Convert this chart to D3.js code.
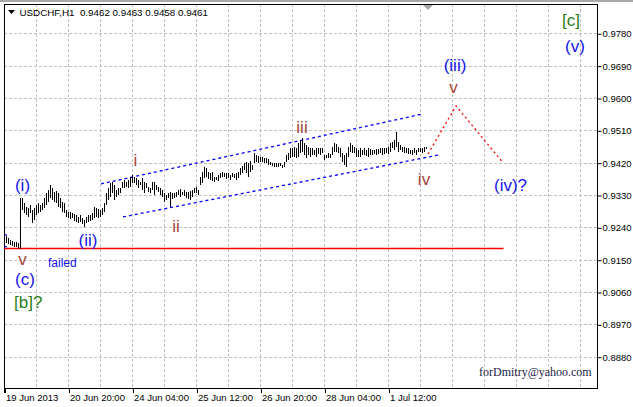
<!DOCTYPE html>
<html><head><meta charset="utf-8">
<script src="https://cdn.jsdelivr.net/npm/d3@7"></script>
<style>body{margin:0;background:#fff;} svg{display:block;}</style>
</head><body><svg id="c" width="633" height="407"></svg>
<script>
const symbol = "USDCHF,H1";
const lastQuote = ["0.9462", "0.9463", "0.9458", "0.9461"];

const highs = [
.9222,.9216,.9210,.9205,.9202,.9199,.9199,.9196,.9322,.9322,
.9308,.9297,.9294,.9302,.9288,.9294,.9302,.9308,.9302,.9308,
.9322,.9336,.9344,.9358,.9350,.9339,.9341,.9336,.9322,.9311,
.9308,.9288,.9283,.9283,.9280,
.9277,.9274,.9269,.9274,.9266,.9260,.9269,.9274,.9274,.9280,
.9297,.9294,.9291,.9288,.9294,.9308,.9336,.9350,.9364,.9366,
.9358,.9344,.9350,.9350,.9366,.9372,.9366,.9372,.9380,.9386,
.9380,.9378,.9372,.9366,.9378,
.9366,.9364,.9352,.9350,.9366,.9366,.9358,.9352,.9350,.9344,
.9336,.9330,.9336,.9339,.9336,.9336,.9339,.9344,.9347,.9339,
.9344,.9339,.9339,.9341,.9344,.9350,.9352,.9344,.9380,.9394,
.9408,.9405,.9394,.9391,.9394,
.9380,.9380,.9386,.9391,.9394,.9391,.9391,.9391,.9386,.9391,
.9389,.9391,.9394,.9405,.9411,.9419,.9422,.9419,.9425,.9414,
.9447,.9441,.9439,.9436,.9436,.9433,.9433,.9430,.9422,.9419,
.9419,.9419,.9419,.9419,.9414,
.9422,.9441,.9447,.9461,.9461,.9464,.9461,.9475,.9483,.9489,
.9475,.9469,.9464,.9461,.9461,.9455,.9461,.9461,.9461,.9461,
.9441,.9441,.9447,.9444,.9464,.9475,.9472,.9464,.9461,.9447,
.9441,.9447,.9464,.9475,.9469,
.9464,.9461,.9455,.9461,.9455,.9461,.9455,.9461,.9458,.9455,
.9455,.9458,.9458,.9461,.9461,.9461,.9461,.9464,.9475,.9478,
.9483,.9505,.9478,.9469,.9464,.9464,.9461,.9461,.9455,.9455,
.9461,.9455,.9461,.9461,.9461,.9464,.9463
];
const lows = [
.9205,.9196,.9194,.9191,.9188,.9185,.9185,.9183,.9180,.9288,
.9280,.9274,.9269,.9280,.9252,.9260,.9274,.9280,.9283,.9288,
.9294,.9302,.9311,.9322,.9316,.9311,.9308,.9297,.9294,.9283,
.9280,.9269,.9266,.9263,.9266,
.9258,.9255,.9252,.9255,.9249,.9241,.9252,.9255,.9258,.9260,
.9266,.9269,.9266,.9269,.9274,.9283,.9302,.9316,.9325,.9336,
.9316,.9325,.9330,.9336,.9350,.9350,.9352,.9350,.9352,.9364,
.9364,.9358,.9350,.9358,.9344,
.9336,.9350,.9339,.9336,.9344,.9330,.9344,.9339,.9330,.9325,
.9311,.9316,.9322,.9297,.9319,.9322,.9325,.9330,.9325,.9330,
.9327,.9322,.9319,.9316,.9325,.9336,.9336,.9330,.9358,.9364,
.9378,.9380,.9375,.9372,.9369,
.9366,.9372,.9369,.9378,.9380,.9380,.9375,.9378,.9372,.9380,
.9378,.9372,.9378,.9386,.9391,.9400,.9391,.9380,.9394,.9400,
.9419,.9422,.9419,.9422,.9422,.9419,.9419,.9414,.9414,.9411,
.9408,.9408,.9408,.9411,.9405,
.9408,.9422,.9428,.9433,.9436,.9436,.9433,.9436,.9447,.9450,
.9441,.9433,.9441,.9436,.9441,.9441,.9436,.9444,.9441,.9447,
.9428,.9433,.9433,.9433,.9441,.9450,.9450,.9447,.9436,.9422,
.9414,.9408,.9436,.9450,.9447,
.9447,.9436,.9436,.9436,.9441,.9441,.9439,.9436,.9441,.9441,
.9444,.9441,.9444,.9447,.9441,.9444,.9447,.9444,.9450,.9461,
.9455,.9464,.9450,.9455,.9450,.9447,.9447,.9444,.9444,.9441,
.9447,.9441,.9450,.9450,.9447,.9450,.9458
];

const timeLabels = ["19 Jun 2013", "20 Jun 20:00", "24 Jun 04:00", "25 Jun 12:00", "26 Jun 20:00", "28 Jun 04:00", "1 Jul 12:00"];
const timeLabelBars = [0, 32, 64, 96, 128, 160, 192];
const priceTicks = [0.9780, 0.9690, 0.9600, 0.9510, 0.9420, 0.9330, 0.9240, 0.9150, 0.9060, 0.8970, 0.8880];

const channelUpper = [[48.25, 0.9361], [208.75, 0.9555]];
const channelLower = [[59.25, 0.9269], [216.75, 0.9441]];
const startMarks = [[[0, 0.9219], [1.2, 0.9219]], [[0, 0.9186], [1.2, 0.9186]]];
const projection = [[211.75, 0.9444], [225.75, 0.9578], [249.25, 0.9420]];
const failedLevel = [[-0.25, 0.9182], [249.5, 0.9182]];

const BLUE = "#1414ee", BROWN = "#a2453a", GREEN = "#2a7d18";
const waveText = ["(i)", "(ii)", "v", "(c)", "[b]?", "failed", "i", "ii", "iii", "iv", "v", "(iii)", "(iv)?", "[c]", "(v)"];
const waveBar = [9, 41.75, 9, 10.25, 4.75, 21.75, 65.5, 85.75, 148.75, 209.75, 224.5, 225.25, 244.75, 283.25, 285.25];
const wavePrice = [0.9340, 0.9187, 0.9135, 0.9080, 0.9016, 0.9131, 0.9411, 0.9227, 0.9503, 0.9358, 0.9614, 0.9674, 0.9341, 0.9799, 0.9729];
const waveColor = [BLUE, BLUE, BROWN, BLUE, GREEN, BLUE, BROWN, BROWN, BROWN, BROWN, BROWN, BLUE, BLUE, GREEN, BLUE];
const waveSize = [17, 17, 17, 17, 17, 12, 17, 17, 17, 17, 17, 17, 17, 17, 17];
const waveAnchor = ["middle", "middle", "middle", "middle", "start", "start", "middle", "middle", "middle", "middle", "middle", "middle", "start", "middle", "middle"];
const signature = {text: "forDmitry@yahoo.com", bar: 237.25, price: 0.8826};

const W = 633, H = 407;
const plot = {left: 4, right: 597, top: 4, bottom: 388};
const x = d3.scaleLinear().domain([-0.25, 296.25]).range([plot.left, plot.right]);
const y = d3.scaleLinear().domain([0.8880, 0.9780]).range([356.7, 33.3]);
const px = v => Math.floor(x(v)) + 0.5;
const py = v => Math.round(y(v)) + 0.5;
const FONT = "'Liberation Sans', Arial, sans-serif";

const svg = d3.select("#c");
svg.append("rect").attr("width", W).attr("height", H).attr("fill", "#fff");
svg.append("rect").attr("x", 0).attr("y", 0).attr("width", W).attr("height", 2).attr("fill", "#a8a8a8");

// grid
const grid = svg.append("g").attr("stroke", "#c0c0c0").attr("stroke-dasharray", "3,2").attr("stroke-width", 1);
grid.selectAll("line.vg").data(d3.range(16, 296, 16)).join("line").attr("class", "vg")
  .attr("x1", d => px(d)).attr("x2", d => px(d)).attr("y1", plot.top).attr("y2", plot.bottom);
grid.selectAll("line.hg").data(priceTicks).join("line").attr("class", "hg")
  .attr("x1", plot.left).attr("x2", plot.right).attr("y1", d => py(d)).attr("y2", d => py(d));

// frame
const frame = svg.append("g").attr("stroke", "#000").attr("stroke-width", 1).attr("shape-rendering", "crispEdges");
frame.append("line").attr("x1", plot.left + 0.5).attr("x2", plot.left + 0.5).attr("y1", plot.top).attr("y2", plot.bottom + 5);
frame.append("line").attr("x1", plot.left).attr("x2", plot.right).attr("y1", plot.top + 0.5).attr("y2", plot.top + 0.5);
frame.append("line").attr("x1", plot.right + 0.5).attr("x2", plot.right + 0.5).attr("y1", plot.top).attr("y2", plot.bottom + 1);
frame.append("line").attr("x1", plot.left).attr("x2", plot.right + 1).attr("y1", plot.bottom + 0.5).attr("y2", plot.bottom + 0.5);

// axes
const yAxis = d3.axisRight(y).tickValues(priceTicks).tickFormat(d3.format(".4f")).tickSize(4).tickPadding(1);
const ya = svg.append("g").attr("transform", `translate(${plot.right + 0.5},0.5)`).call(yAxis);
ya.select(".domain").remove();
ya.selectAll("text").attr("font-family", FONT).attr("font-size", 9.5).attr("fill", "#000");
ya.selectAll("line").attr("stroke", "#000");

const xAxis = d3.axisBottom(x).tickValues(timeLabelBars).tickFormat((d, i) => timeLabels[i]).tickSize(5).tickPadding(2);
const xa = svg.append("g").attr("transform", `translate(0.5,${plot.bottom})`).call(xAxis);
xa.select(".domain").remove();
xa.selectAll("text").attr("font-family", FONT).attr("font-size", 9.5).attr("fill", "#000")
  .attr("text-anchor", "start").attr("dx", "0.5").attr("dy", "0.6em");
xa.selectAll("line").attr("stroke", "#000");

// red failed level
svg.append("path").datum(failedLevel)
  .attr("d", d3.line().x(d => x(d[0])).y(d => py(d[1])))
  .attr("stroke", "#ff0000").attr("stroke-width", 1.4).attr("fill", "none");

// channel
const ln = d3.line().x(d => x(d[0])).y(d => y(d[1]));
svg.selectAll("path.ch").data([channelUpper, channelLower].concat(startMarks)).join("path").attr("class", "ch")
  .attr("d", ln).attr("fill", "none").attr("stroke", "#0000ff").attr("stroke-width", 1.3).attr("stroke-dasharray", "3,3");

// bars
svg.append("g").selectAll("line.bar").data(highs.map((h, i) => ({i, h, l: lows[i]}))).join("line").attr("class", "bar")
  .attr("x1", d => px(d.i)).attr("x2", d => px(d.i))
  .attr("y1", d => Math.round(y(d.h))).attr("y2", d => Math.max(Math.round(y(d.l)), Math.round(y(d.h)) + 2))
  .attr("stroke", "#000").attr("stroke-width", 1).attr("shape-rendering", "crispEdges");

// projection
svg.append("path").datum(projection).attr("d", ln).attr("fill", "none")
  .attr("stroke", "#ff0000").attr("stroke-width", 1.3).attr("stroke-dasharray", "2,3");

// wave labels
svg.append("g").selectAll("text.w").data(waveText.map((t, i) => i)).join("text").attr("class", "w")
  .attr("x", i => x(waveBar[i])).attr("y", i => y(wavePrice[i]))
  .attr("text-anchor", i => waveAnchor[i]).attr("font-family", FONT)
  .attr("font-size", i => waveSize[i]).attr("fill", i => waveColor[i]).text(i => waveText[i]);

svg.append("text").attr("x", x(signature.bar)).attr("y", y(signature.price))
  .attr("font-family", "'Liberation Serif', 'Times New Roman', serif").attr("font-size", 12)
  .attr("fill", "#1c1c48").text(signature.text);

// title
svg.append("path").attr("d", "M8,10 L15,10 L11.5,14 Z").attr("fill", "#000");
svg.append("text").attr("x", 19.5).attr("y", 16).attr("font-family", FONT).attr("font-size", 9.8).attr("fill", "#000")
  .attr("xml:space", "preserve").text(symbol + "  " + lastQuote.join(" "));

// shift marker
const sx = x(highs.length - 0.25);
svg.append("path").attr("d", `M${sx - 5},5 L${sx + 5},5 L${sx},10 Z`).attr("fill", "#a8a8a8");
</script></body></html>
